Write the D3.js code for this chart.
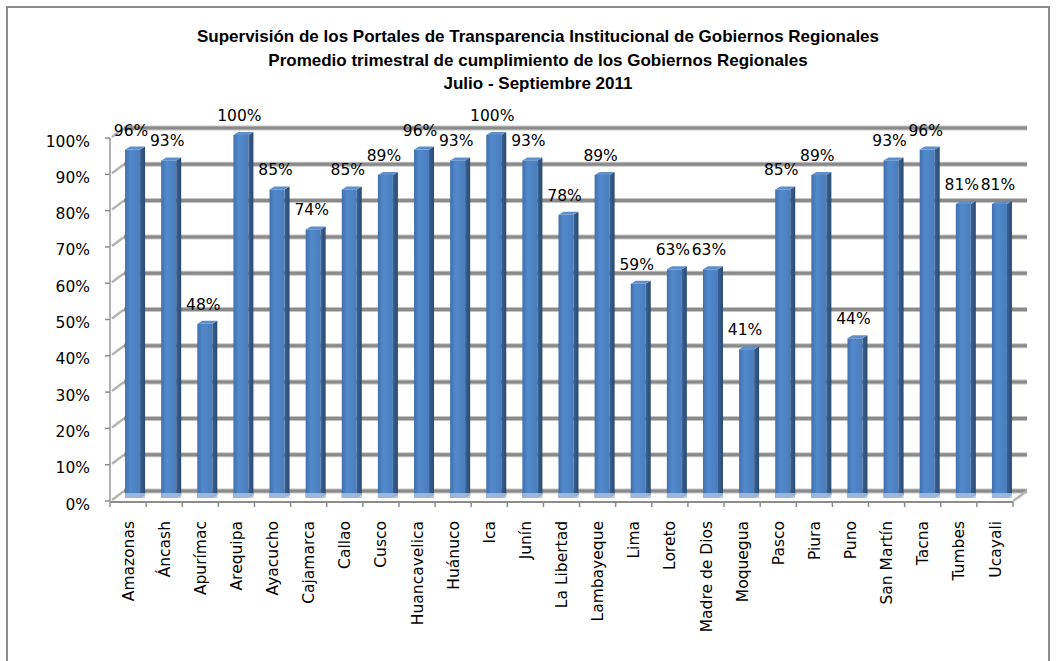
<!DOCTYPE html>
<html>
<head>
<meta charset="utf-8">
<script src="https://cdn.jsdelivr.net/npm/d3@7"></script>
<style>
body { margin: 0; background: #fff; }
text { font-family: "DejaVu Sans", Verdana, sans-serif; }
</style>
</head>
<body>
<svg id="chart" width="1057" height="661"></svg>
<script>
var titleLines = [
    'Supervisión de los Portales de Transparencia  Institucional de Gobiernos Regionales',
    'Promedio trimestral de cumplimiento de los Gobiernos Regionales',
    'Julio - Septiembre 2011'
];
var regions = ['Amazonas', 'Áncash', 'Apurímac', 'Arequipa', 'Ayacucho', 'Cajamarca', 'Callao',
    'Cusco', 'Huancavelica', 'Huánuco', 'Ica', 'Junín', 'La Libertad', 'Lambayeque', 'Lima',
    'Loreto', 'Madre de Dios', 'Moquegua', 'Pasco', 'Piura', 'Puno', 'San Martín', 'Tacna',
    'Tumbes', 'Ucayali'];
var cumplimiento = [0.96, 0.93, 0.48, 1.00, 0.85, 0.74, 0.85, 0.89, 0.96, 0.93, 1.00, 0.93, 0.78,
    0.89, 0.59, 0.63, 0.63, 0.41, 0.85, 0.89, 0.44, 0.93, 0.96, 0.81, 0.81];
var yTicks = [0, 0.1, 0.2, 0.3, 0.4, 0.5, 0.6, 0.7, 0.8, 0.9, 1];

var svg = d3.select('#chart');
var data = regions.map(function(r, i) { return {name: r, value: cumplimiento[i]}; });

// 3d-ish offsets: wall depth and bar position inside it
var wall = {dx: 14, dy: -10};
var barOff = {dx: 4, dy: -3};
var barW = 15, barD = {dx: 5, dy: -3};

var x = d3.scaleBand().domain(regions).range([110, 1013]);
var y = d3.scaleLinear().domain([0, 1]).range([501, 138]);
var pct = d3.format('.0%');

// outer frame
svg.append('rect')
    .attr('x', 7).attr('y', 7)
    .attr('width', 1042).attr('height', 670)
    .attr('fill', 'none')
    .attr('stroke', '#8c8c8c')
    .attr('stroke-width', 2);

// title
svg.append('g').selectAll('text')
    .data(titleLines)
    .enter()
    .append('text')
        .attr('x', 538)
        .attr('y', function(d, i) { return 42 + i * 23.5; })
        .attr('text-anchor', 'middle')
        .style('font-family', '"Liberation Sans", Arial, sans-serif')
        .style('font-weight', 'bold')
        .style('font-size', '17px')
        .text(function(d) { return d; });

var defs = svg.append('defs');
var gFront = defs.append('linearGradient').attr('id', 'front');
gFront.append('stop').attr('offset', '0%').attr('stop-color', '#3f70ad');
gFront.append('stop').attr('offset', '35%').attr('stop-color', '#5289cc');
gFront.append('stop').attr('offset', '100%').attr('stop-color', '#4a7dbc');
var gSide = defs.append('linearGradient').attr('id', 'side');
gSide.append('stop').attr('offset', '0%').attr('stop-color', '#3a6293');
gSide.append('stop').attr('offset', '100%').attr('stop-color', '#2b4a70');

// side wall gridlines
svg.append('g').selectAll('line')
    .data(yTicks)
    .enter()
    .append('line')
        .attr('x1', x.range()[0] + 2).attr('y1', function(t) { return y(t) - 1; })
        .attr('x2', x.range()[0] + wall.dx).attr('y2', function(t) { return y(t) + wall.dy; })
        .attr('stroke', '#b4b4b4')
        .attr('stroke-width', 2.5);

// back wall gridlines
var grid = svg.append('g');
grid.selectAll('line.g1')
    .data(yTicks)
    .enter()
    .append('line')
        .attr('class', 'g1')
        .attr('x1', x.range()[0] + wall.dx).attr('x2', x.range()[1] + wall.dx)
        .attr('y1', function(t) { return y(t) + wall.dy; })
        .attr('y2', function(t) { return y(t) + wall.dy; })
        .attr('stroke', '#c4c4c4')
        .attr('stroke-width', 5);
grid.selectAll('line.g2')
    .data(yTicks)
    .enter()
    .append('line')
        .attr('class', 'g2')
        .attr('x1', x.range()[0] + wall.dx).attr('x2', x.range()[1] + wall.dx)
        .attr('y1', function(t) { return y(t) + wall.dy; })
        .attr('y2', function(t) { return y(t) + wall.dy; })
        .attr('stroke', '#8a8a8a')
        .attr('stroke-width', 3);

// floor right edge
svg.append('line')
    .attr('x1', x.range()[1]).attr('y1', y(0))
    .attr('x2', x.range()[1] + wall.dx).attr('y2', y(0) + wall.dy)
    .attr('stroke', '#b4b4b4').attr('stroke-width', 2.5);

// bars
var bars = svg.append('g').selectAll('g')
    .data(data)
    .enter()
    .append('g')
        .attr('transform', function(d) {
            return 'translate(' + (x(d.name) + x.bandwidth() / 2 - 3) + ',0)';
        });

function yb(v) { return y(v) + barOff.dy; }

bars.append('rect')
    .attr('x', 0)
    .attr('y', function(d) { return yb(d.value); })
    .attr('width', barW)
    .attr('height', function(d) { return yb(0) - yb(d.value); })
    .attr('fill', 'url(#front)');
bars.append('path')
    .attr('d', function(d) {
        var t = yb(d.value), b = yb(0);
        return 'M' + barW + ',' + t + 'L' + (barW + barD.dx) + ',' + (t + barD.dy) +
            'L' + (barW + barD.dx) + ',' + (b + barD.dy) + 'L' + barW + ',' + b + 'Z';
    })
    .attr('fill', 'url(#side)');
bars.append('path')
    .attr('d', function(d) {
        var t = yb(d.value);
        return 'M0,' + t + 'L' + barW + ',' + t + 'L' + (barW + barD.dx) + ',' + (t + barD.dy) +
            'L' + barD.dx + ',' + (t + barD.dy) + 'Z';
    })
    .attr('fill', '#5f8fcb');
// floor shows through at the foot of each bar
bars.append('rect')
    .attr('x', 0)
    .attr('y', yb(0) - 5)
    .attr('width', barW + barD.dx)
    .attr('height', 5)
    .attr('fill', '#a9c0df')
    .attr('opacity', 0.85);

// value labels
svg.append('g').selectAll('text')
    .data(data)
    .enter()
    .append('text')
        .attr('x', function(d) { return x(d.name) + x.bandwidth() / 2 + 3; })
        .attr('y', function(d) { return yb(d.value) - 14; })
        .attr('text-anchor', 'middle')
        .style('font-size', '15.5px')
        .text(function(d) { return pct(d.value); });

// front axes
var axisColor = '#8c8c8c';
svg.append('line')
    .attr('x1', x.range()[0]).attr('x2', x.range()[0])
    .attr('y1', y(1)).attr('y2', y(0))
    .attr('stroke', '#b0b0b0').attr('stroke-width', 2);
svg.append('g').selectAll('line')
    .data(yTicks)
    .enter()
    .append('line')
        .attr('x1', x.range()[0] - 5).attr('x2', x.range()[0])
        .attr('y1', function(t) { return y(t); })
        .attr('y2', function(t) { return y(t); })
        .attr('stroke', axisColor).attr('stroke-width', 1.5);
svg.append('line')
    .attr('x1', x.range()[0]).attr('x2', x.range()[1])
    .attr('y1', y(0) + 1).attr('y2', y(0) + 1)
    .attr('stroke', axisColor).attr('stroke-width', 2);
svg.append('g').selectAll('line')
    .data(regions.concat(['end']))
    .enter()
    .append('line')
        .attr('x1', function(r, i) { return x.range()[0] + i * x.step(); })
        .attr('x2', function(r, i) { return x.range()[0] + i * x.step(); })
        .attr('y1', y(0) + 1).attr('y2', y(0) + 6)
        .attr('stroke', axisColor).attr('stroke-width', 1.5);

// y labels
svg.append('g').selectAll('text')
    .data(yTicks)
    .enter()
    .append('text')
        .attr('x', 90)
        .attr('y', function(t) { return y(t) + 3; })
        .attr('dy', '0.36em')
        .attr('text-anchor', 'end')
        .style('font-size', '15.5px')
        .text(function(t) { return pct(t); });

// category labels
svg.append('g').selectAll('text')
    .data(regions)
    .enter()
    .append('text')
        .attr('transform', function(r) {
            return 'translate(' + (x(r) + x.bandwidth() / 2) + ',521) rotate(-90)';
        })
        .attr('dy', '0.36em')
        .attr('text-anchor', 'end')
        .style('font-size', '15.5px')
        .text(function(r) { return r; });
</script>
</body>
</html>
